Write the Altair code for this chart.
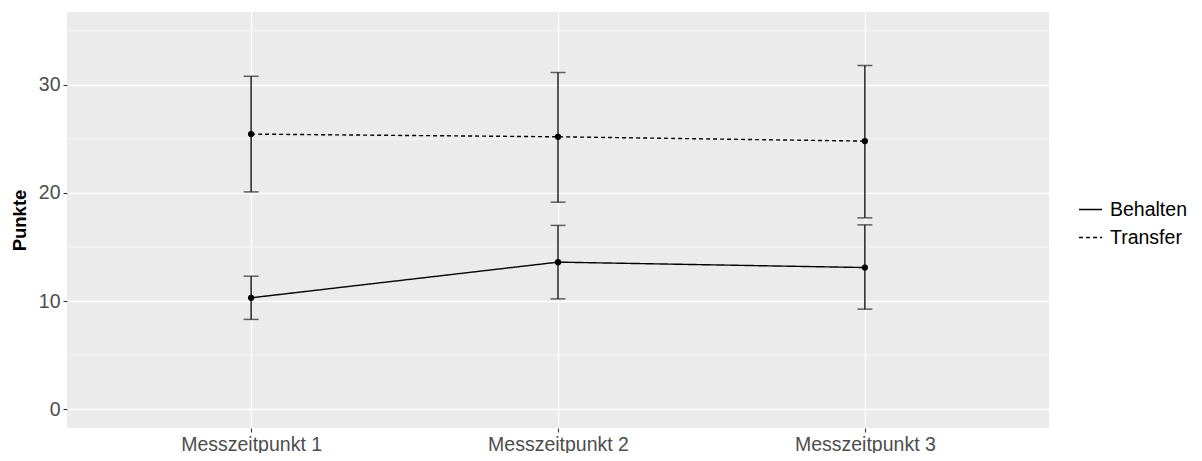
import altair as alt
import pandas as pd

zeitpunkte = ["Messzeitpunkt 1", "Messzeitpunkt 2", "Messzeitpunkt 3"]
gruppen = ["Behalten", "Transfer"]

behalten_mittel = [10.3, 13.6, 13.1]
behalten_unten = [8.3, 10.2, 9.25]
behalten_oben = [12.3, 17.0, 17.05]

transfer_mittel = [25.45, 25.2, 24.8]
transfer_unten = [20.1, 19.15, 17.7]
transfer_oben = [30.8, 31.15, 31.8]

major_ticks = [0, 10, 20, 30]
minor_ticks = [5, 15, 25, 35]

rows = []
for g, ms, los, his in [
    ("Behalten", behalten_mittel, behalten_unten, behalten_oben),
    ("Transfer", transfer_mittel, transfer_unten, transfer_oben),
]:
    for z, m, lo, hi in zip(zeitpunkte, ms, los, his):
        rows.append({"Gruppe": g, "Zeit": z, "Mittel": m, "lo": lo, "hi": hi})
df = pd.DataFrame(rows)
df_minor = pd.DataFrame({"Mittel": minor_ticks})

font = "Liberation Sans"

x_enc = alt.X(
    "Zeit:N",
    sort=zeitpunkte,
    scale=alt.Scale(type="point", padding=0.6),
    axis=alt.Axis(
        title=None, labelAngle=0, grid=True, gridColor="white", gridWidth=1.3,
        domain=False, tickColor="#333333", tickSize=4, tickWidth=1.1,
        labelColor="#4D4D4D", labelFontSize=19.5, labelFont=font, labelPadding=3,
    ),
)
y_scale = alt.Scale(domain=[-1.75, 36.75], nice=False, zero=False)
y_enc = alt.Y(
    "Mittel:Q",
    scale=y_scale,
    axis=alt.Axis(
        values=major_ticks, title="Punkte", grid=True, gridColor="white", gridWidth=1.3,
        domain=False, tickColor="#333333", tickSize=4, tickWidth=1.1,
        labelColor="#4D4D4D", labelFontSize=19.5, labelFont=font, labelPadding=3,
        titleFont=font, titleFontSize=18.5, titleFontWeight="bold", titleColor="black",
        titlePadding=9,
    ),
)

minor = alt.Chart(df_minor).mark_rule(color="white", strokeWidth=0.6).encode(
    y=y_enc
)

base = alt.Chart(df)

dash_scale = alt.Scale(domain=gruppen, range=[[1, 0], [4, 3]])

lines = base.mark_line(color="black", strokeWidth=1.4).encode(
    x=x_enc,
    y=y_enc,
    strokeDash=alt.StrokeDash(
        "Gruppe:N", scale=dash_scale,
        legend=alt.Legend(
            title=None, orient="none", legendX=1011, legendY=185,
            symbolType="stroke", symbolStrokeColor="black", symbolStrokeWidth=1.4,
            symbolSize=529, labelFont=font, labelFontSize=19.5, labelColor="black",
            labelOffset=7, rowPadding=6,
        ),
    ),
    detail="Gruppe:N",
)

bars = base.mark_rule(color="#222222", strokeWidth=1.5).encode(
    x=alt.X("Zeit:N", sort=zeitpunkte), y="lo:Q", y2="hi:Q"
)
caps_lo = base.mark_tick(color="#222222", size=15, thickness=1.5, orient="horizontal").encode(
    x=alt.X("Zeit:N", sort=zeitpunkte), y="lo:Q"
)
caps_hi = base.mark_tick(color="#222222", size=15, thickness=1.5, orient="horizontal").encode(
    x=alt.X("Zeit:N", sort=zeitpunkte), y="hi:Q"
)
points = base.mark_point(filled=True, size=40, color="black", opacity=1).encode(
    x=alt.X("Zeit:N", sort=zeitpunkte), y="Mittel:Q"
)

chart = alt.layer(minor, lines, bars, caps_lo, caps_hi, points).properties(
    width=982, height=416,
    autosize=alt.AutoSizeParams(type="none"),
    padding={"left": 59, "top": 4, "right": 145, "bottom": 25},
).configure_view(
    fill="#EBEBEB", stroke=None
)

chart.save("out.html", embed_options={"renderer": "svg", "actions": False})
